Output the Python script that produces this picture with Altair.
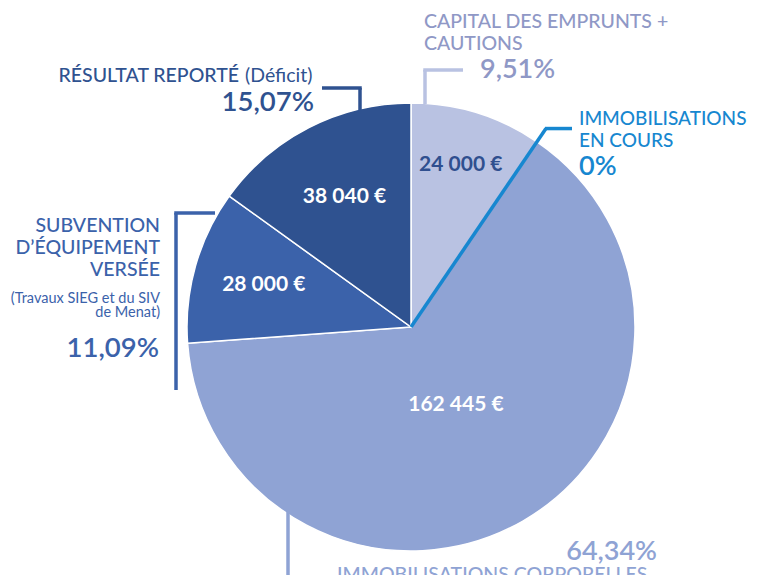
import math
import altair as alt
import pandas as pd

# ---- data ----
categories = ["Capital des emprunts + cautions", "Immobilisations en cours",
              "Immobilisations corporelles", "Subvention d'équipement versée",
              "Résultat reporté (Déficit)"]
values = [24000, 0, 162445, 28000, 38040]
value_labels = ["24 000 €", "", "162 445 €", "28 000 €", "38 040 €"]
percent_labels = ["9,51%", "0%", "64,34%", "11,09%", "15,07%"]

# ---- styles / layout ----
slice_colors = ["#b9c2e2", "#1787d0", "#8fa3d4", "#3b62aa", "#2f5290"]
text_colors = ["#8f98c6", "#1787d0", "#8fa3d4", "#3b62aa", "#2f5290"]
value_label_colors = ["#2f4f8f", "#ffffff", "#ffffff", "#ffffff", "#ffffff"]
value_label_radius = [169, 0, 90, 153, 146]
FONT = "Lato"
CAP = 19.5
CX, CY, R = 403, 319, 224   # pie centre (chart coords) and radius

df = pd.DataFrame({
    "cat": categories, "value": values, "idx": list(range(len(values))),
    "vlabel": value_labels, "vcol": value_label_colors, "vr": value_label_radius,
})

pie = alt.Chart(df).mark_arc(outerRadius=R, stroke="white", strokeWidth=1.5).encode(
    theta=alt.Theta("value:Q", stack=True),
    order=alt.Order("idx:Q"),
    color=alt.Color("cat:N", scale=alt.Scale(domain=categories, range=slice_colors), legend=None),
    x=alt.value(CX), y=alt.value(CY),
)

vlabels = alt.Chart(df).transform_window(
    cum="sum(value)", sort=[alt.SortField("idx")], frame=[None, 0]
).transform_calculate(
    mid="datum.cum - datum.value / 2"
).mark_text(font=FONT, fontSize=21, fontWeight="bold",
            align="center", baseline="middle").encode(
    theta=alt.Theta("mid:Q", stack=False),
    radius=alt.Radius("vr:Q", scale=None),
    text="vlabel:N",
    color=alt.Color("vcol:N", scale=None),
    x=alt.value(CX), y=alt.value(CY),
)

one = pd.DataFrame({"a": [0]})


def seg(x1, y1, x2, y2, color, w=3.5):
    return alt.Chart(one).mark_rule(color=color, strokeWidth=w, strokeCap="butt").encode(
        x=alt.value(x1), y=alt.value(y1), x2=alt.value(x2), y2=alt.value(y2))


def txt(x, y, text, size, color, weight="normal", align="left"):
    return alt.Chart(one).mark_text(font=FONT, fontSize=size, fontWeight=weight, color=color,
                                    align=align, baseline="alphabetic").encode(
        x=alt.value(x), y=alt.value(y), text=alt.value(text))


# boundary angle of the zero slice (derived from the data)
total = sum(values)
ang = 2 * math.pi * values[0] / total
ex = CX + 240 * math.sin(ang)
ey = CY - 240 * math.cos(ang)

o = 8  # page margin offset
layers = [
    pie, vlabels,
    # leader lines
    seg(425 - o, 104 - o, 425 - o, 70 - o, slice_colors[0]),
    seg(423.25 - o, 70 - o, 463 - o, 70 - o, slice_colors[0]),
    seg(CX, CY, ex, ey, slice_colors[1], 3.5),
    seg(ex - 1, ey, 572 - o, ey, slice_colors[1]),
    seg(322 - o, 88 - o, 361.75 - o, 88 - o, slice_colors[4]),
    seg(360 - o, 88 - o, 360 - o, 110 - o, slice_colors[4]),
    seg(174.25 - o, 213 - o, 215 - o, 213 - o, slice_colors[3]),
    seg(176 - o, 213 - o, 176 - o, 390 - o, slice_colors[3]),
    seg(288 - o, 505 - o, 288 - o, 579.75 - o, slice_colors[2]),
    seg(288 - o, 578 - o, 328 - o, 578 - o, slice_colors[2]),
    # capital
    txt(424 - o, 28 - o, "CAPITAL DES EMPRUNTS +", CAP, text_colors[0], 500),
    txt(424 - o, 50 - o, "CAUTIONS", CAP, text_colors[0], 500),
    txt(480 - o, 78 - o, percent_labels[0], 27, text_colors[0], 600),
    # en cours
    txt(579 - o, 125 - o, "IMMOBILISATIONS", 19, text_colors[1], 500),
    txt(579 - o, 147 - o, "EN COURS", 19, text_colors[1], 500),
    txt(579 - o, 175 - o, percent_labels[1], 27, text_colors[1], 600),
    # résultat
    txt(239 - o, 82 - o, "RÉSULTAT REPORTÉ", CAP, text_colors[4], 500, "right"),
    txt(245 - o, 82 - o, "(Déficit)", CAP, text_colors[4], "normal", "left"),
    txt(314 - o, 111 - o, percent_labels[4], 27.5, text_colors[4], 600, "right"),
    # subvention
    txt(160 - o, 232 - o, "SUBVENTION", CAP, text_colors[3], 500, "right"),
    txt(160 - o, 254 - o, "D’ÉQUIPEMENT", CAP, text_colors[3], 500, "right"),
    txt(160 - o, 276 - o, "VERSÉE", CAP, text_colors[3], 500, "right"),
    txt(160 - o, 303 - o, "(Travaux SIEG et du SIV", 14.5, text_colors[3], "normal", "right"),
    txt(160 - o, 317 - o, "de Menat)", 14.5, text_colors[3], "normal", "right"),
    txt(159 - o, 357 - o, percent_labels[3], 27.5, text_colors[3], 600, "right"),
    # corporelles
    txt(657 - o, 560 - o, percent_labels[2], 27, text_colors[2], 600, "right"),
    txt(337 - o, 581 - o, "IMMOBILISATIONS CORPORELLES", CAP, text_colors[2], 500),
]

chart = alt.layer(*layers).properties(
    width=741, height=567, autosize=alt.AutoSizeParams(type="none"), padding=0,
).configure_view(stroke=None)

chart.save("out.html", embed_options={"renderer": "svg", "actions": False})
